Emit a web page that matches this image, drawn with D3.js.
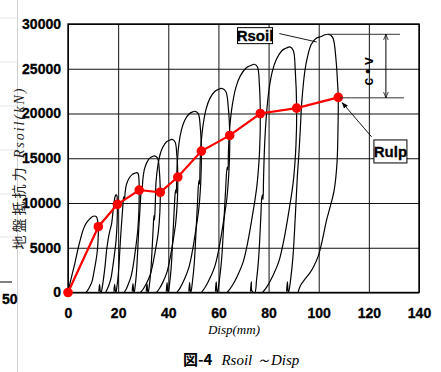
<!DOCTYPE html>
<html>
<head>
<meta charset="utf-8">
<script src="https://cdn.jsdelivr.net/npm/d3@7"></script>
<style>
  body { margin: 0; background: #fff; }
  svg { display: block; }
</style>
</head>
<body>
<svg id="chart" width="441" height="372"></svg>
<script>
// Rulp points (red line), disp in mm, load in kN
const rulpDisp = [0, 12.1, 19.7, 28.4, 36.8, 43.8, 53.2, 64.5, 76.7, 91.2, 107.8];
const rulpLoad = [0, 7350, 9850, 11450, 11200, 12900, 15800, 17550, 20000, 20600, 21800];

// Rsoil cycles [disp, load]
const cycle1 = [[0,0],[0.7,900],[1.5,1850],[2.8,3350],[4.1,5000],[5,6000],[6.1,7050],[7.4,7800],[8.8,8250],[9.8,8500],[10.5,8550],[11.3,8480],[11.8,8070],[12.1,7350],[12.0,5880],[11.6,4410],[11.0,3300],[10.2,2060],[9.6,1250],[8.7,660],[7.9,260],[7.2,0]];
const cycle2 = [[12.3,100],[12.6,900],[12.9,150],[13.2,0],[13.6,500],[14.2,1600],[14.8,3000],[15.4,4700],[16.0,5900],[16.7,6900],[17.4,7700],[18.0,9200],[18.5,10300],[18.9,10800],[19.2,10900],[19.5,10840],[19.65,10480],[19.7,9850],[19.6,7880],[19.2,5910],[18.6,4430],[17.8,2760],[17.2,1670],[16.4,890],[15.6,340],[15.0,0]];
const cycle3 = [[18.3,100],[18.6,900],[18.9,150],[19.1,0],[19.52,670],[20.02,1880],[20.53,4020],[20.95,6030],[21.45,8040],[21.87,9650],[22.2,10700],[22.5,10300],[22.8,11200],[23.3,12060],[24.31,12730],[25.65,13200],[26.66,13330],[27.5,13400],[28.0,13280],[28.3,12620],[28.4,11450],[28.28,9160],[27.8,6870],[27.08,5150],[26.12,3210],[25.28,1950],[24.2,1030],[23.24,400],[22.4,0]];
const cycle4 = [[25.6,100],[25.9,1000],[26.2,150],[26.4,0],[26.81,760],[27.29,2140],[27.78,4580],[28.18,6870],[28.67,9160],[29.07,10990],[29.35,11800],[29.55,11300],[29.85,12600],[30.45,13740],[31.42,14510],[32.72,15040],[33.69,15190],[34.5,15270],[35.7,15030],[36.42,13640],[36.8,11200],[36.64,8960],[36.01,6720],[35.06,5040],[33.8,3140],[32.69,1900],[31.27,1010],[30.01,390],[28.9,0]];
const cycle5 = [[31.2,100],[31.5,1000],[31.8,150],[32,0],[32.47,855],[33.03,2390],[33.6,5130],[34.07,7700],[34.3,8600],[34.5,8100],[34.8,9800],[35.1,12310],[35.76,14020],[36.7,15390],[37.83,16250],[39.33,16840],[40.46,17010],[41.4,17100],[42.65,16850],[43.4,15420],[43.8,12900],[43.63,10320],[42.95,7740],[41.93,5810],[40.57,3610],[39.38,2190],[37.85,1160],[36.49,450],[35.3,0]];
const cycle6 = [[39.2,100],[39.5,1100],[39.8,150],[40,0],[40.53,1010],[41.17,2840],[41.8,6080],[42.33,9110],[42.8,11200],[43.05,11500],[43.2,11100],[43.5,14000],[44.24,16610],[45.3,18230],[46.57,19240],[48.27,19950],[49.54,20150],[50.6,20250],[51.95,19980],[52.76,18470],[53.2,15800],[53.0,12640],[52.22,9480],[51.04,7110],[49.48,4420],[48.1,2690],[46.34,1420],[44.77,550],[43.4,0]];
const cycle7 = [[48.2,100],[48.5,1100],[48.8,150],[49,0],[49.61,1140],[50.34,3190],[51.07,6840],[51.68,10260],[52.2,12500],[52.45,12100],[52.7,14500],[53.03,16420],[53.88,18700],[55.1,20520],[56.56,21660],[58.52,22460],[59.98,22690],[61.2,22800],[62.9,22490],[63.92,20700],[64.5,17550],[64.27,14040],[63.37,10530],[62.01,7900],[60.21,4910],[58.62,2980],[56.59,1580],[54.78,610],[53.2,0]];
const cycle8 = [[58.8,100],[59.1,1200],[59.4,150],[59.6,0],[60.34,1280],[61.23,3570],[62.12,7650],[62.86,11480],[63.5,14000],[63.8,13700],[64.0,15800],[64.48,18360],[65.52,20910],[67.0,22950],[68.78,24230],[71.14,25120],[72.92,25370],[74.4,25500],[75.6,25170],[76.32,23300],[76.7,20000],[76.44,16000],[75.38,12000],[73.8,9000],[71.68,5600],[69.84,3400],[67.46,1800],[65.35,700],[63.5,0]];
const cycle9 = [[72.8,100],[73.1,1200],[73.4,150],[74.5,0],[75.2,1370],[76.04,3840],[76.88,8240],[77.3,10600],[77.6,10900],[77.8,10400],[78.0,12800],[78.42,16470],[79.12,19760],[80.1,22510],[81.5,24710],[83.18,26080],[85.42,27040],[87.1,27310],[88.5,27450],[89.85,27040],[90.66,24710],[91.2,20600],[90.93,16480],[89.84,12360],[88.21,9270],[86.03,5770],[84.13,3500],[81.68,1850],[79.5,720],[77.6,0]];
const cycle10 = [[87.2,100],[87.5,1200],[87.8,150],[88,0],[88.79,1440],[89.74,4040],[90.69,8660],[91.48,12980],[92.1,15500],[92.7,18500],[93.2,21100],[94.5,24800],[95.5,26300],[97,27700],[99,28400],[101,28600],[102.5,28800],[103.8,28850],[104.8,28750],[105.8,28350],[106.9,26000],[107.6,23000],[107.8,21800],[107.7,18500],[107.3,14500],[106.2,11500],[104.5,9500],[103.2,8170],[101.2,5560],[99.8,4070],[98,2900],[96.5,2200],[94.5,1500],[93.2,1000],[92.3,500],[91.8,0]];
const cycles = [cycle1, cycle2, cycle3, cycle4, cycle5, cycle6, cycle7, cycle8, cycle9, cycle10];

const xTicks = [0, 20, 40, 60, 80, 100, 120, 140];
const yTicks = [0, 5000, 10000, 15000, 20000, 25000, 30000];

const svg = d3.select("#chart");
const margin = { top: 24, right: 22, bottom: 79.5, left: 68 };
const width = 441 - margin.left - margin.right;
const height = 372 - margin.top - margin.bottom;
const tickFont = "'Liberation Sans Narrow', 'Arial Narrow', 'Liberation Sans', sans-serif";

// leftover bits of the neighbouring page on the left edge
const edge = svg.append("g");
[18, 62, 106, 150, 194, 237].forEach(v => {
  edge.append("line").attr("x1", 0).attr("x2", 17).attr("y1", v).attr("y2", v)
    .attr("stroke", "#e4e4e4").attr("stroke-width", 1);
});
edge.append("line").attr("x1", 0).attr("x2", 12).attr("y1", 282).attr("y2", 282)
  .attr("stroke", "#000").attr("stroke-width", 1);
edge.append("line").attr("x1", 17.5).attr("x2", 17.5).attr("y1", 0).attr("y2", 372)
  .attr("stroke", "#d0d0d0").attr("stroke-width", 1);
edge.append("text").attr("x", 2).attr("y", 304)
  .attr("font-family", tickFont).attr("font-weight", "bold").attr("font-size", 14)
  .attr("stroke", "#000").attr("stroke-width", 0.3)
  .text("50");

const g = svg.append("g").attr("transform", `translate(${margin.left},${margin.top})`);

const x = d3.scaleLinear().domain([0, 140]).range([0, width]);
const y = d3.scaleLinear().domain([0, 30000]).range([height, 0]);

// Axes with grid lines
const xAxis = g.append("g").attr("class", "x-axis")
  .attr("transform", `translate(0,${height})`)
  .call(d3.axisBottom(x).tickValues(xTicks).tickSize(-height).tickPadding(16).tickFormat(d3.format("d")));
const yAxis = g.append("g").attr("class", "y-axis")
  .call(d3.axisLeft(y).tickValues(yTicks).tickSize(-width).tickPadding(7).tickFormat(d3.format("d")));

[xAxis, yAxis].forEach(a => {
  a.select(".domain").remove();
  a.selectAll(".tick line").attr("stroke", "#111").attr("stroke-width", 1);
  a.selectAll("text")
    .attr("fill", "#000")
    .attr("stroke", "#000")
    .attr("stroke-width", 0.3)
    .style("font-family", tickFont)
    .style("font-weight", "bold")
    .style("font-size", "14px");
});

g.append("rect").attr("x", 0).attr("y", 0).attr("width", width).attr("height", height)
  .attr("fill", "none").attr("stroke", "#000").attr("stroke-width", 1.4);

// clip
g.append("clipPath").attr("id", "plot-clip")
  .append("rect").attr("x", 0).attr("y", -2).attr("width", width).attr("height", height + 6);

const line = d3.line()
  .x(d => x(d[0]))
  .y(d => y(d[1]))
  .curve(d3.curveCatmullRom.alpha(0.5));

g.append("g").attr("clip-path", "url(#plot-clip)")
  .selectAll("path.cycle")
  .data(cycles)
  .join("path")
  .attr("class", "cycle")
  .attr("d", line)
  .attr("fill", "none")
  .attr("stroke", "#000")
  .attr("stroke-width", 1.2);

// Rulp red line + points
const rulp = rulpDisp.map((d, i) => [d, rulpLoad[i]]);
g.append("path")
  .datum(rulp)
  .attr("d", d3.line().x(d => x(d[0])).y(d => y(d[1])))
  .attr("fill", "none")
  .attr("stroke", "#ff0000")
  .attr("stroke-width", 2.2);
g.selectAll("circle.rulp")
  .data(rulp)
  .join("circle")
  .attr("class", "rulp")
  .attr("cx", d => x(d[0]))
  .attr("cy", d => y(d[1]))
  .attr("r", 4.8)
  .attr("fill", "#ff0000");

// Annotations
const defs = svg.append("defs");
defs.append("marker").attr("id", "arrow-fill")
  .attr("viewBox", "0 0 10 10").attr("refX", 9).attr("refY", 5)
  .attr("markerWidth", 7).attr("markerHeight", 7).attr("orient", "auto-start-reverse")
  .append("path").attr("d", "M0,1 L10,5 L0,9 Z").attr("fill", "#000");
defs.append("marker").attr("id", "arrow-open")
  .attr("viewBox", "0 0 10 10").attr("refX", 10).attr("refY", 5)
  .attr("markerWidth", 6).attr("markerHeight", 6).attr("orient", "auto-start-reverse")
  .append("path").attr("d", "M0,1 L10,5 L0,9").attr("fill", "none").attr("stroke", "#000").attr("stroke-width", 1.2);

// Rsoil label
g.append("line")
  .attr("x1", x(84.3)).attr("y1", y(28930)).attr("x2", x(99.2)).attr("y2", y(27990))
  .attr("stroke", "#000").attr("stroke-width", 0.9);
g.append("rect")
  .attr("x", x(74.6) - 17.5).attr("y", y(28700) - 8).attr("width", 35).attr("height", 16)
  .attr("fill", "#fff").attr("stroke", "#000").attr("stroke-width", 1);
g.append("text")
  .attr("x", x(74.6)).attr("y", y(28700)).attr("dy", "0.36em")
  .attr("text-anchor", "middle")
  .attr("font-family", tickFont).attr("font-weight", "bold").attr("font-size", 15)
  .attr("stroke", "#000").attr("stroke-width", 0.3)
  .text("Rsoil");

// c·v dimension
g.append("line").attr("x1", x(103.8)).attr("x2", x(132.4)).attr("y1", y(28850)).attr("y2", y(28850))
  .attr("stroke", "#333").attr("stroke-width", 1);
g.append("line").attr("x1", x(108.5)).attr("x2", x(134)).attr("y1", y(21750)).attr("y2", y(21750))
  .attr("stroke", "#333").attr("stroke-width", 1);
g.append("line").attr("x1", x(126.8)).attr("x2", x(126.8)).attr("y1", y(28850)).attr("y2", y(21750))
  .attr("stroke", "#000").attr("stroke-width", 1)
  .attr("marker-start", "url(#arrow-open)").attr("marker-end", "url(#arrow-open)");
g.append("text")
  .attr("transform", `translate(${x(119.7)},${y(24720)}) rotate(-90)`)
  .attr("dy", "0.36em")
  .attr("text-anchor", "middle")
  .attr("font-family", "'Liberation Sans', Arial, sans-serif").attr("font-weight", "bold").attr("font-size", 14)
  .text("c • v");

// Rulp label
g.append("line")
  .attr("x1", x(121.1)).attr("y1", y(17390)).attr("x2", x(109.4)).attr("y2", y(21200))
  .attr("stroke", "#000").attr("stroke-width", 0.9)
  .attr("marker-end", "url(#arrow-fill)");
g.append("rect")
  .attr("x", x(128.6) - 16.5).attr("y", y(15760) - 11.5).attr("width", 33).attr("height", 23)
  .attr("fill", "#fff").attr("stroke", "#000").attr("stroke-width", 1);
g.append("text")
  .attr("x", x(128.6)).attr("y", y(15760)).attr("dy", "0.36em")
  .attr("text-anchor", "middle")
  .attr("font-family", tickFont).attr("font-weight", "bold").attr("font-size", 15)
  .attr("stroke", "#000").attr("stroke-width", 0.3)
  .text("Rulp");

// Axis titles
g.append("text")
  .attr("x", x(66.2)).attr("y", height + 41)
  .attr("text-anchor", "middle")
  .attr("font-family", "'Liberation Serif', serif").attr("font-style", "italic").attr("font-size", 13)
  .text("Disp(mm)");

const yTitle = svg.append("text")
  .attr("transform", "translate(24,168) rotate(-90)")
  .attr("text-anchor", "middle")
  .attr("fill", "#222");
yTitle.append("tspan")
  .attr("font-family", "'Noto Sans CJK JP', sans-serif").attr("font-size", 14)
  .attr("letter-spacing", 3)
  .text("地盤抵抗力 ");
yTitle.append("tspan")
  .attr("font-family", "'Liberation Serif', serif").attr("font-style", "italic").attr("font-size", 14)
  .attr("letter-spacing", 2)
  .text("Rsoil(kN)");

// Figure caption
const cap = svg.append("text").attr("x", 183).attr("y", 365);
cap.append("tspan")
  .attr("font-family", "'Noto Sans CJK JP', sans-serif").attr("font-weight", "bold").attr("font-size", 15)
  .text("図-4");
cap.append("tspan")
  .attr("dx", 9)
  .attr("font-family", "'Liberation Serif', serif").attr("font-style", "italic").attr("font-size", 15)
  .text("Rsoil ～Disp");
</script>
</body>
</html>
